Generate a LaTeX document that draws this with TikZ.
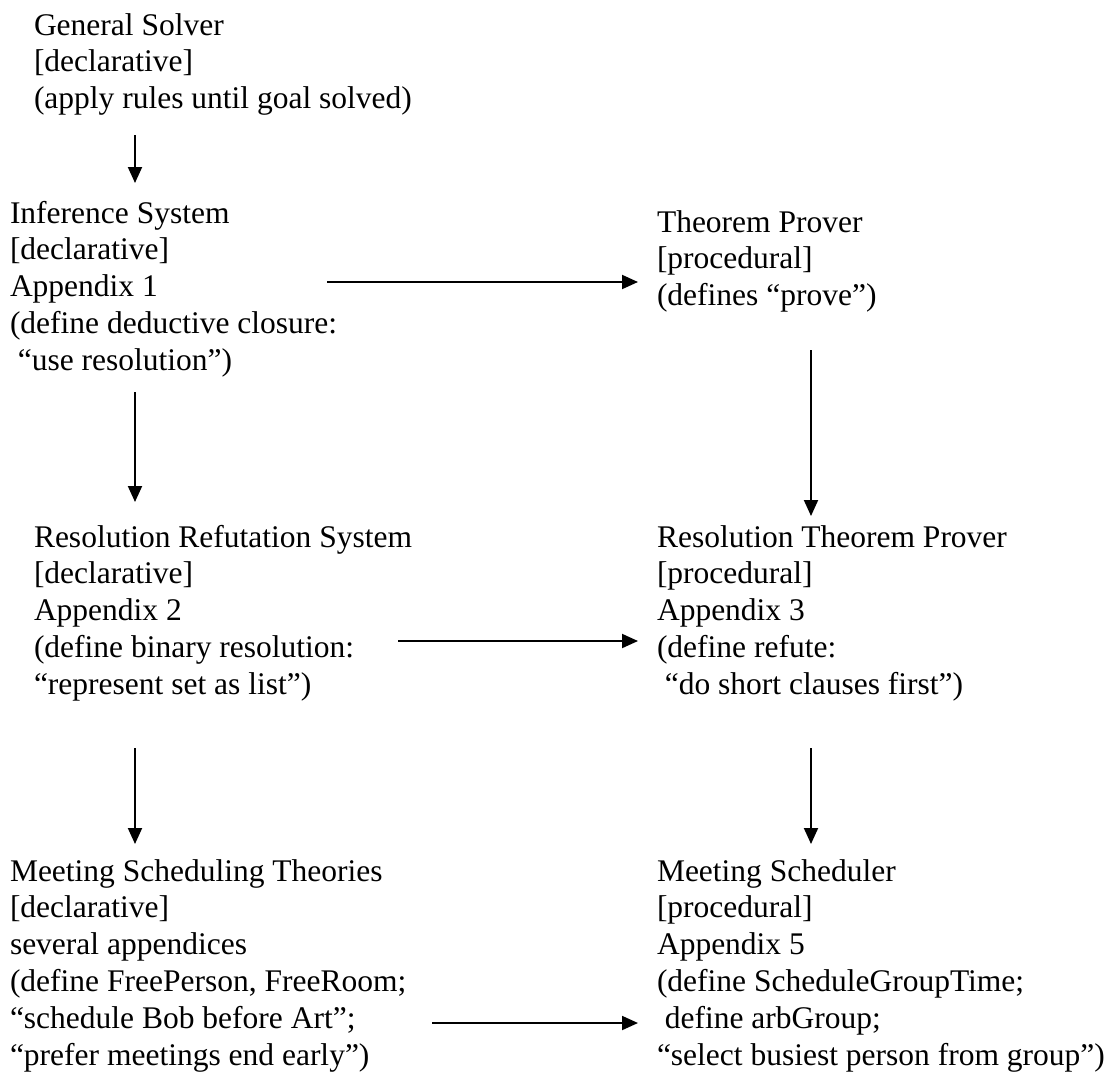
\documentclass[tikz,border=0pt]{standalone}
\usepackage{fontspec}
\setmainfont{Liberation Serif}
\usetikzlibrary{arrows.meta}
\tikzset{
  txt/.style={anchor=north west, inner sep=0pt, outer sep=0pt, align=left,
    font=\fontsize{31.5}{36.8}\selectfont},
  arr/.style={line width=1.9pt, -{Triangle[length=16pt,width=14pt]}}
}
\newcommand{\topstrut}{\rule{0pt}{26pt}}
\begin{document}
\begin{tikzpicture}[x=1pt,y=-1pt]
\useasboundingbox (0,0) rectangle (1116,1074);
% nodes (top = first baseline - 26)
\node[txt] (gs) at (34,9) {\topstrut General Solver\\{[declarative]}\\(apply rules until goal solved)};
\node[txt] (is) at (10,197) {\topstrut Inference System\\{[declarative]}\\Appendix 1\\(define deductive closure:\\\hspace*{0.25em}“use resolution”)};
\node[txt] (tp) at (657,206) {\topstrut Theorem Prover\\{[procedural]}\\(defines “prove”)};
\node[txt] (rrs) at (34,521) {\topstrut Resolution Refutation System\\{[declarative]}\\Appendix 2\\(define binary resolution:\\“represent set as list”)};
\node[txt] (rtp) at (657,521) {\topstrut Resolution Theorem Prover\\{[procedural]}\\Appendix 3\\(define refute:\\\hspace*{0.25em}“do short clauses first”)};
\node[txt] (mst) at (10,855) {\topstrut Meeting Scheduling Theories\\{[declarative]}\\several appendices\\(define FreePerson, FreeRoom;\\“schedule Bob before Art”;\\“prefer meetings end early”)};
\node[txt] (ms) at (657,855) {\topstrut Meeting Scheduler\\{[procedural]}\\Appendix 5\\(define ScheduleGroupTime;\\\hspace*{0.25em}define arbGroup;\\“select busiest person from group”)};
% connector end points
\coordinate (gs-out) at (135,135);
\coordinate (is-in) at (135,183);
\coordinate (is-right) at (327,282);
\coordinate (tp-in) at (638,282);
\coordinate (is-down) at (135,392);
\coordinate (rrs-in) at (135,502);
\coordinate (tp-down) at (811,350);
\coordinate (rtp-in) at (811,516);
\coordinate (rrs-right) at (398,641);
\coordinate (rtp-left) at (638,641);
\coordinate (rrs-down) at (135,748);
\coordinate (mst-in) at (135,844);
\coordinate (rtp-down) at (811,748);
\coordinate (ms-in) at (811,844);
\coordinate (mst-right) at (432,1023);
\coordinate (ms-left) at (638,1023);
% connectors
\draw[arr] (gs-out) -- (is-in);
\draw[arr] (is-right) -- (tp-in);
\draw[arr] (is-down) -- (rrs-in);
\draw[arr] (tp-down) -- (rtp-in);
\draw[arr] (rrs-right) -- (rtp-left);
\draw[arr] (rrs-down) -- (mst-in);
\draw[arr] (rtp-down) -- (ms-in);
\draw[arr] (mst-right) -- (ms-left);
\end{tikzpicture}
\end{document}
